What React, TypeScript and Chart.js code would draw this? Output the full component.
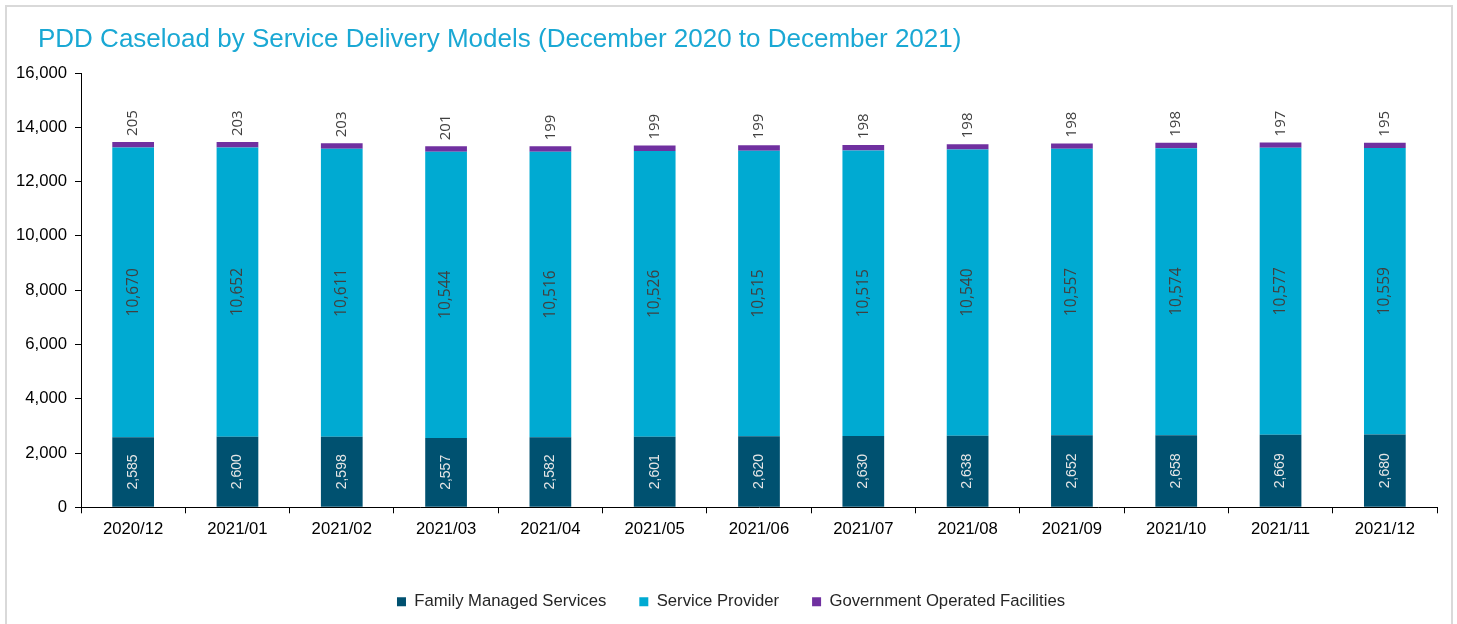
import React, { useEffect, useRef } from "react";
import { Chart, registerables } from "chart.js";

Chart.register(...registerables);

const months = [
  "2020/12", "2021/01", "2021/02", "2021/03", "2021/04", "2021/05", "2021/06",
  "2021/07", "2021/08", "2021/09", "2021/10", "2021/11", "2021/12",
];
const familyManaged = [2585, 2600, 2598, 2557, 2582, 2601, 2620, 2630, 2638, 2652, 2658, 2669, 2680];
const serviceProvider = [10670, 10652, 10611, 10544, 10516, 10526, 10515, 10515, 10540, 10557, 10574, 10577, 10559];
const governmentOperated = [205, 203, 203, 201, 199, 199, 199, 198, 198, 198, 198, 197, 195];
const yTicks = [0, 2000, 4000, 6000, 8000, 10000, 12000, 14000, 16000];
const titleText = "PDD Caseload by Service Delivery Models (December 2020 to December 2021)";

const fmt = (v: number) => v.toLocaleString("en-US");
const FONT = "'Liberation Sans', Arial, sans-serif";

const titlePlugin = {
  id: "leftTitle",
  afterDraw(chart: any) {
    const ctx = chart.ctx;
    ctx.save();
    ctx.font = `26px ${FONT}`;
    ctx.fillStyle = "#1AA8D4";
    ctx.textAlign = "left";
    ctx.textBaseline = "alphabetic";
    ctx.fillText(titleText, chart.chartArea.left - 43, 47);
    ctx.restore();
  },
};

const labelPlugin = {
  id: "barLabels",
  afterDatasetsDraw(chart: any) {
    const ctx = chart.ctx;
    chart.data.datasets.forEach((ds: any, di: number) => {
      const meta = chart.getDatasetMeta(di);
      meta.data.forEach((el: any, i: number) => {
        const text = fmt(ds.data[i]);
        ctx.save();
        if (di === 2) {
          ctx.translate(el.x, el.y - 6);
          ctx.rotate(-Math.PI / 2);
          ctx.font = "15px 'Open Sans'";
          ctx.fillStyle = "#404040";
          ctx.textAlign = "left";
          ctx.textBaseline = "middle";
          ctx.fillText(text, 0, 0);
        } else {
          const cy = (el.y + el.base) / 2;
          ctx.translate(el.x, cy);
          ctx.rotate(-Math.PI / 2);
          if (di === 0) {
            ctx.font = `14px ${FONT}`;
            ctx.fillStyle = "#e6e6e6";
          } else {
            ctx.font = "15.5px 'Open Sans'";
            ctx.fillStyle = "#404040";
          }
          ctx.textAlign = "center";
          ctx.textBaseline = "middle";
          ctx.fillText(text, 0, 0);
        }
        ctx.restore();
      });
    });
  },
};

export default function App() {
  const ref = useRef<HTMLCanvasElement>(null);
  useEffect(() => {
    if (!ref.current) return;
    const chart = new Chart(ref.current, {
      type: "bar",
      data: {
        labels: months,
        datasets: [
          { label: "Family Managed Services", data: familyManaged, backgroundColor: "#005170", barPercentage: 0.4, categoryPercentage: 1 },
          { label: "Service Provider", data: serviceProvider, backgroundColor: "#00AAD2", barPercentage: 0.4, categoryPercentage: 1 },
          { label: "Government Operated Facilities", data: governmentOperated, backgroundColor: "#7030A0", barPercentage: 0.4, categoryPercentage: 1 },
        ],
      },
      options: {
        animation: false,
        responsive: false,
        maintainAspectRatio: false,
        layout: { padding: { left: 25, right: 20, top: 73, bottom: 4 } },
        plugins: {
          title: { display: false },
          legend: {
            position: "bottom",
            labels: {
              boxWidth: 9,
              boxHeight: 9,
              padding: 33,
              color: "#262626",
              font: { family: FONT, size: 16.7 },
            },
          },
          tooltip: { enabled: false },
        },
        scales: {
          x: {
            stacked: true,
            offset: true,
            grid: { display: true, drawOnChartArea: false, drawTicks: true, tickLength: 6, color: "#000", offset: true },
            border: { display: true, color: "#000", width: 1 },
            ticks: { color: "#000", padding: 6, maxRotation: 0, font: { family: FONT, size: 16.7 } },
            afterFit: (s: any) => { s.height = 53; },
          },
          y: {
            stacked: true,
            min: 0,
            max: 16000,
            afterBuildTicks: (s: any) => { s.ticks = yTicks.map((v) => ({ value: v })); },
            grid: { display: true, drawOnChartArea: false, drawTicks: true, tickLength: 6, color: "#000" },
            border: { display: true, color: "#000", width: 1 },
            ticks: { color: "#000", padding: 8, callback: (v: any) => fmt(Number(v)), font: { family: FONT, size: 16.7 } },
            afterFit: (s: any) => {
              s.width = 56;
              s._computeLabelArea = () => undefined;
            },
          },
        },
      },
      plugins: [labelPlugin, titlePlugin],
    });
    return () => chart.destroy();
  }, []);
  return (
    <div style={{ position: "fixed", left: 0, top: 0, width: 1457, height: 624, overflow: "hidden", background: "#fff" }}>
      <div style={{ position: "absolute", left: 5, top: 5, width: 1444, height: 700, border: "2px solid #d9d9d9" }} />
      <canvas ref={ref} width={1457} height={624} style={{ position: "absolute", left: 0, top: 0, width: 1457, height: 624 }} />
    </div>
  );
}
